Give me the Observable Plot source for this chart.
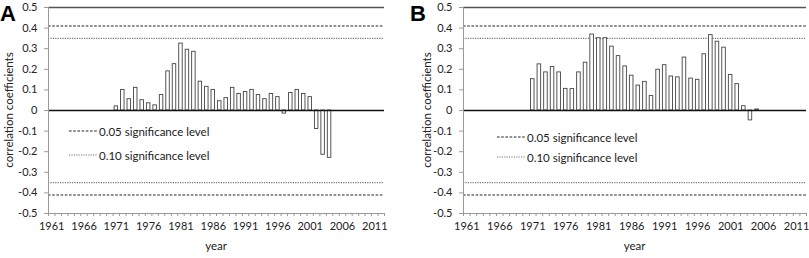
<!DOCTYPE html>
<html><head><meta charset="utf-8">
<script src="https://cdn.jsdelivr.net/npm/d3@7"></script>
<script src="https://cdn.jsdelivr.net/npm/@observablehq/plot@0.6"></script>
<style>
body{margin:0;background:#fff;}
#wrap{display:flex;width:809px;height:258px;overflow:hidden;}
</style></head><body><div id="wrap"></div>
<script>
// ---- data ----
const yearsA = [1971,1972,1973,1974,1975,1976,1977,1978,1979,1980,1981,1982,1983,1984,1985,1986,1987,1988,1989,1990,1991,1992,1993,1994,1995,1996,1997,1998,1999,2000,2001,2002,2003,2004];
const valuesA = [0.02,0.10,0.055,0.11,0.05,0.035,0.025,0.075,0.19,0.225,0.325,0.295,0.285,0.14,0.115,0.10,0.045,0.06,0.11,0.08,0.09,0.10,0.075,0.055,0.08,0.065,-0.015,0.085,0.10,0.08,0.065,-0.09,-0.215,-0.23];
const yearsB = [1971,1972,1973,1974,1975,1976,1977,1978,1979,1980,1981,1982,1983,1984,1985,1986,1987,1988,1989,1990,1991,1992,1993,1994,1995,1996,1997,1998,1999,2000,2001,2002,2003,2004,2005];
const valuesB = [0.152,0.224,0.185,0.211,0.185,0.105,0.104,0.185,0.232,0.369,0.351,0.351,0.31,0.264,0.214,0.169,0.121,0.139,0.07,0.198,0.22,0.165,0.161,0.257,0.155,0.149,0.273,0.366,0.334,0.305,0.173,0.128,0.021,-0.048,0.005];
const xTickLabels = [1961,1966,1971,1976,1981,1986,1991,1996,2001,2006,2011];
const yTicks = [-0.5,-0.4,-0.3,-0.2,-0.1,0,0.1,0.2,0.3,0.4,0.5];
const sig05 = [0.41,-0.41];
const sig10 = [0.35,-0.35];
const legendLabels = ["0.05 significance level","0.10 significance level"];
const panelLetters = ["A","B"];
const xTitle = "year";
const yTitle = "correlation coefficients";

const xDomain = [1960.5, 2012.5];
const xMinorTicks = d3.range(xDomain[0], xDomain[1] + 0.01, 1);
const FONT = "Lato, sans-serif";

function panel({letter, years, values, width, marginLeft, marginRight, letterX, yTitleX, legendX, legendY}) {
  const data = years.map((year, i) => ({year, value: values[i]}));
  const chart = Plot.plot({
    width, height: 258, marginLeft, marginRight, marginTop: 7, marginBottom: 45,
    style: {fontFamily: FONT, fontSize: "11px", color: "#222", background: "white"},
    x: {domain: xDomain},
    y: {domain: [-0.5, 0.5]},
    marks: [
      Plot.ruleY([0.5], {stroke: "#555", strokeWidth: 1.3}),
      Plot.ruleY(sig10, {stroke: "#777", strokeDasharray: "1.2,1.2", strokeWidth: 1.2}),
      Plot.ruleY(sig05, {stroke: "#222", strokeDasharray: "2.6,1.6", strokeWidth: 1.1}),
      Plot.rectY(data, {x1: d => d.year - 0.27, x2: d => d.year + 0.27, y: "value", fill: "white", stroke: "#444", strokeWidth: 0.9}),
      Plot.ruleY([0], {stroke: "#111", strokeWidth: 1.3}),
      Plot.ruleX([xDomain[0]], {stroke: "#999"}),
      Plot.ruleY([-0.5], {stroke: "#999"}),
      Plot.axisY({ticks: yTicks, tickFormat: d => String(d), tickSize: 4, tickPadding: 7, stroke: "#999", fill: "#222", label: null}),
      Plot.axisX({ticks: xMinorTicks, tickSize: 3, tickFormat: () => "", stroke: "#999", label: null}),
      Plot.axisX({ticks: xTickLabels, tickSize: 0, tickPadding: 9, tickFormat: d => String(d), fill: "#222", label: null})
    ]
  });
  const svg = d3.select(chart);
  const plotCenter = marginLeft + (width - marginLeft - marginRight) / 2;
  svg.append("text").text(letter)
    .attr("x", letterX).attr("y", 21).attr("text-anchor", "start")
    .attr("font-family", "Liberation Sans, Arial, sans-serif").attr("font-weight", "bold").attr("font-size", 22).attr("fill", "#000");
  svg.append("text").text(yTitle)
    .attr("transform", `translate(${yTitleX},${7 + 103}) rotate(-90)`)
    .attr("text-anchor", "middle").attr("dominant-baseline", "central")
    .attr("font-family", FONT).attr("font-size", 11.5).attr("fill", "#222");
  svg.append("text").text(xTitle)
    .attr("x", plotCenter).attr("y", 245)
    .attr("text-anchor", "middle").attr("dominant-baseline", "central")
    .attr("font-family", FONT).attr("font-size", 11.5).attr("fill", "#222");
  const styles = [
    {stroke: "#222", dash: "2.6,1.6", w: 1.1},
    {stroke: "#777", dash: "1.2,1.2", w: 1.2}
  ];
  legendLabels.forEach((lab, i) => {
    const y = legendY[i];
    svg.append("line").attr("x1", legendX).attr("x2", legendX + 28).attr("y1", y).attr("y2", y)
      .attr("stroke", styles[i].stroke).attr("stroke-dasharray", styles[i].dash).attr("stroke-width", styles[i].w);
    svg.append("text").text(lab).attr("x", legendX + 30).attr("y", y)
      .attr("text-anchor", "start").attr("dominant-baseline", "central")
      .attr("font-family", FONT).attr("font-size", 11.5).attr("fill", "#222");
  });
  return chart;
}

const wrap = document.getElementById("wrap");
wrap.append(panel({letter: panelLetters[0], years: yearsA, values: valuesA, width: 404, marginLeft: 48, marginRight: 20,
  letterX: 0, yTitleX: 8, legendX: 69, legendY: [131, 155]}));
wrap.append(panel({letter: panelLetters[1], years: yearsB, values: valuesB, width: 405, marginLeft: 59, marginRight: 3,
  letterX: 6, yTitleX: 22, legendX: 93, legendY: [137, 157]}));
</script></body></html>
